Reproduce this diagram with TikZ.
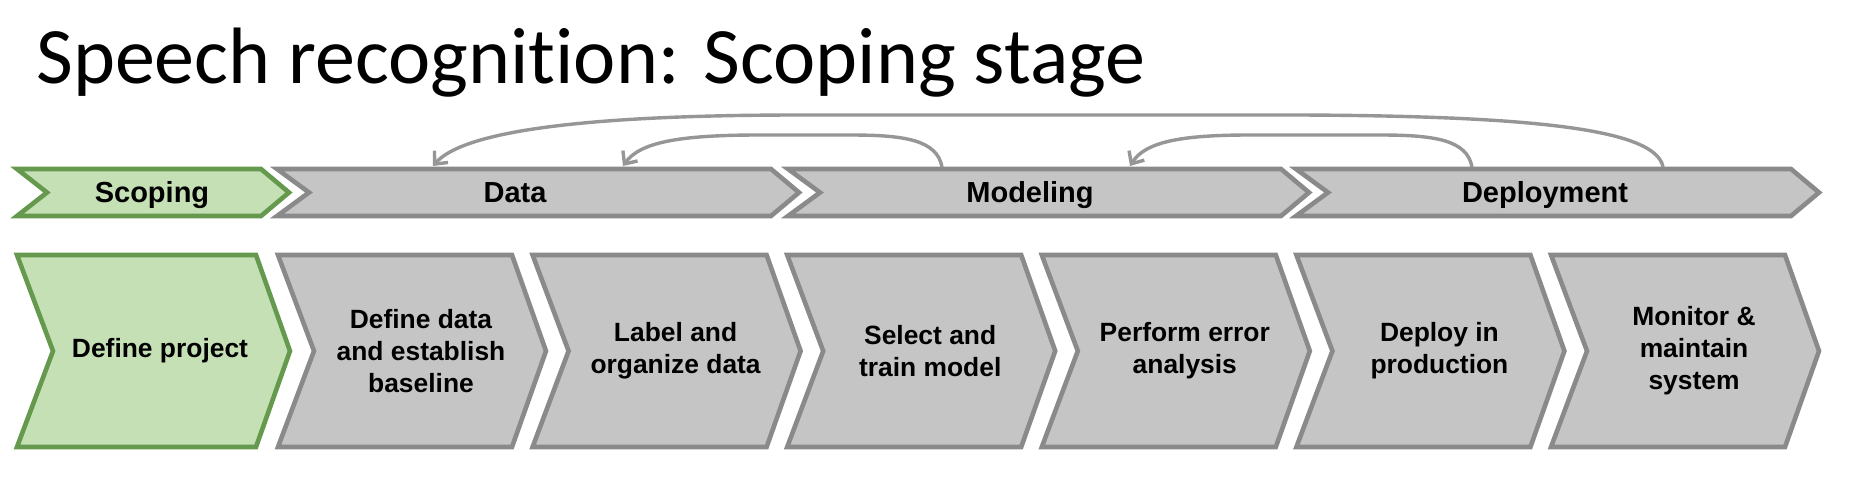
\documentclass[tikz,border=0pt]{standalone}
\usepackage{fontspec}
\setmainfont{Liberation Sans}
\newfontfamily\titlefont[Ligatures={NoCommon},Contextuals={NoAlternate}]{Carlito}
\usetikzlibrary{arrows.meta}
\definecolor{chevgray}{RGB}{197,197,197}
\definecolor{chevgrayline}{RGB}{138,138,138}
\definecolor{chevgreen}{RGB}{197,224,180}
\definecolor{chevgreenline}{RGB}{100,153,78}
\definecolor{arrowgray}{RGB}{150,150,150}
\begin{document}
\begin{tikzpicture}[x=0.5pt,y=-0.5pt,
  graychev/.style={fill=chevgray,draw=chevgrayline,line width=2.3pt},
  greenchev/.style={fill=chevgreen,draw=chevgreenline,line width=2.3pt},
  toplabel/.style={font=\bfseries\fontsize{14.5}{17}\selectfont,text=black,inner sep=0pt,anchor=base},
  steplabel/.style={font=\bfseries\fontsize{13.2}{16}\selectfont,text=black,align=center,inner sep=0pt},
  feedback/.style={draw=arrowgray,line width=1.7pt,-{Straight Barb[length=5pt,width=9pt]}}]
\useasboundingbox[fill=white] (0,0) rectangle (1856,487);

% title
\node[anchor=base west,inner sep=0pt,font=\titlefont\fontsize{40}{44}\selectfont] (title) at (36,83) {Speech recognit\kern0pt ion: Scoping stage};

% top row (phases)
\draw[greenchev] (17,169) -- (261,169) -- (289,192.5) -- (261,216) -- (17,216) -- (47,192.5) -- cycle;
\draw[graychev] (277,169) -- (771,169) -- (799,192.5) -- (771,216) -- (277,216) -- (309,192.5) -- cycle;
\draw[graychev] (788,169) -- (1281,169) -- (1309,192.5) -- (1281,216) -- (788,216) -- (820,192.5) -- cycle;
\draw[graychev] (1296,169) -- (1791,169) -- (1819,192.5) -- (1791,216) -- (1296,216) -- (1328,192.5) -- cycle;

\node[toplabel] (scoping) at (152,202) {Scoping};
\node[toplabel] (data) at (515,202) {Data};
\node[toplabel] (modeling) at (1030,202) {Modeling};
\node[toplabel] (deployment) at (1545,202) {Deployment};

% bottom row (steps)
\draw[greenchev] (17,255) -- (256,255) -- (290,351) -- (256,447) -- (17,447) -- (53,351) -- cycle;
\foreach \i in {0,...,5} {
  \pgfmathsetmacro\X{276+\i*254.6}
  \draw[graychev] ({\X+2},255) -- ({\X+236},255) -- ({\X+270},351) -- ({\X+236},447) -- ({\X+2},447) -- ({\X+38},351) -- cycle;
}

\node[steplabel] (s1) at (160,351) {Define project};
\node[steplabel] (s2) at (421,351) {Define data\\and establish\\baseline};
\node[steplabel] (s3) at (675.6,351) {Label and\\organize data};
\node[steplabel] (s4) at (930.2,351) {Select and\\train model};
\node[steplabel] (s5) at (1184.8,351) {Perform error\\analysis};
\node[steplabel] (s6) at (1439.4,351) {Deploy in\\production};
\node[steplabel] (s7) at (1694,351) {Monitor \&\\maintain\\system};

% feedback arrows
\coordinate (fbA-start) at (1663,167);
\coordinate (fbA-end) at (433,166);
\coordinate (fbB-start) at (942,167);
\coordinate (fbB-end) at (623,166);
\coordinate (fbC-start) at (1472,167);
\coordinate (fbC-end) at (1130,166);

\draw[feedback] (fbA-start) .. controls (1656,130) and (1540,116) .. (1300,115) -- (800,115) .. controls (560,115) and (460,135) .. (fbA-end);
\draw[feedback] (fbB-start) .. controls (937,140) and (905,135) .. (850,135) -- (760,135) .. controls (680,135) and (640,142) .. (fbB-end);
\draw[feedback] (fbC-start) .. controls (1467,140) and (1435,135) .. (1380,135) -- (1250,135) .. controls (1180,135) and (1145,142) .. (fbC-end);
\end{tikzpicture}
\end{document}
